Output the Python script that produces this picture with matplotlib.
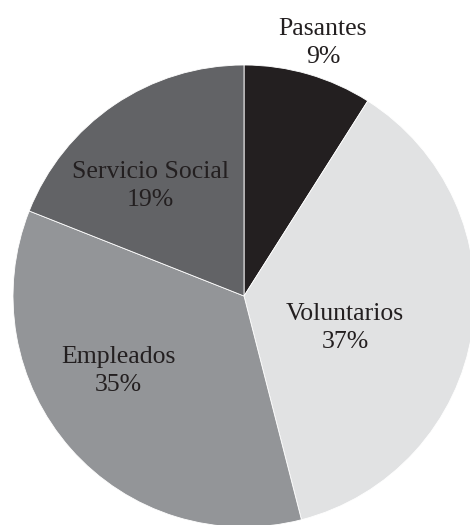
import matplotlib.pyplot as plt

labels = ["Pasantes", "Voluntarios", "Empleados", "Servicio Social"]
values = [9, 37, 35, 19]
colors = ["#231f20", "#e1e2e3", "#939598", "#626366"]

# label centres in pixel coords (x from left, y from top)
label_pos = [(323, 43), (345, 328), (118, 371), (150, 186)]

W, H = 470, 525
fig = plt.figure(figsize=(W / 100, H / 100), dpi=100)
ax = fig.add_axes([0, 0, 1, 1])

ax.pie(values, colors=colors, startangle=90, counterclock=False,
       center=(244, H - 296), radius=231,
       wedgeprops=dict(linewidth=0.6, edgecolor="white"), frame=True)
ax.set_xlim(0, W)
ax.set_ylim(0, H)
ax.set_aspect("equal")
ax.axis("off")

for lab, v, (x, y) in zip(labels, values, label_pos):
    ax.text(x, H - y, f"{lab}\n{v}%", ha="center", va="center",
            fontsize=18.5, family="Liberation Serif", color="#231f20",
            linespacing=1.4)

plt.savefig("out.png", dpi=100)
